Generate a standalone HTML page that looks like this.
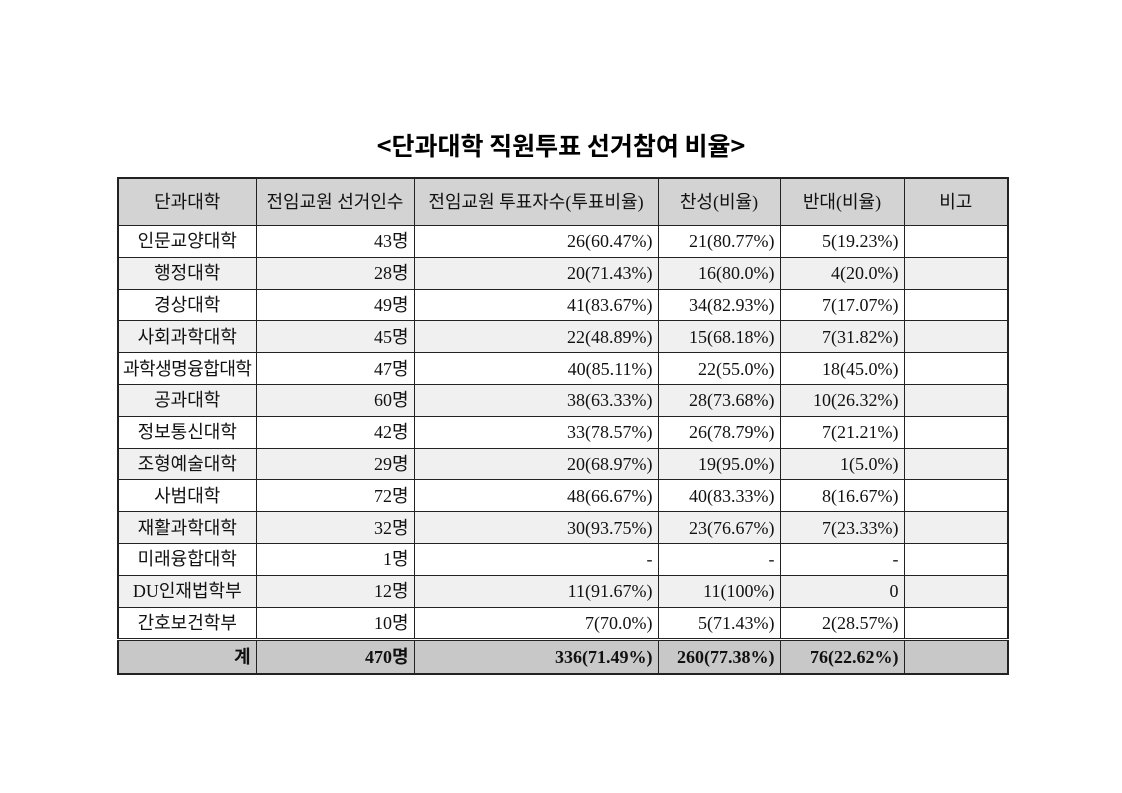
<!DOCTYPE html>
<html><head><meta charset="utf-8"><style>
body{margin:0;width:1122px;height:793px;background:#fff;font-family:"Liberation Serif","Noto Sans CJK KR",sans-serif;position:relative;overflow:hidden}
.t{position:absolute;left:0;width:1122px;top:127px;text-align:center;font-size:25px;font-weight:bold;color:#000;font-family:"Noto Sans CJK KR",sans-serif;line-height:36px}
table{position:absolute;left:117px;top:177px;border-collapse:collapse;border:2px solid #222;table-layout:fixed}
td{border:1px solid #222;font-size:18px;padding:0 5px;height:30.8px;line-height:20px;color:#111;white-space:nowrap;vertical-align:middle;overflow:hidden}
td.c{text-align:center}td.r{text-align:right}
tr.h td{background:#d3d3d3;height:46px;text-align:center}
tr.g td{background:#f0f0f0}
tr.s td{background:#c8c8c8;height:32px;font-weight:bold;border-top:3px double #222}
</style></head><body>
<div class="t">&lt;단과대학 직원투표 선거참여 비율&gt;</div>
<table>
<colgroup><col style="width:138px"><col style="width:158px"><col style="width:244px"><col style="width:122px"><col style="width:124px"><col style="width:104px"></colgroup>
<tr class="h"><td>단과대학</td><td>전임교원 선거인수</td><td>전임교원 투표자수(투표비율)</td><td>찬성(비율)</td><td>반대(비율)</td><td>비고</td></tr>
<tr><td class="c">인문교양대학</td><td class="r">43명</td><td class="r">26(60.47%)</td><td class="r">21(80.77%)</td><td class="r">5(19.23%)</td><td></td></tr>
<tr class="g"><td class="c">행정대학</td><td class="r">28명</td><td class="r">20(71.43%)</td><td class="r">16(80.0%)</td><td class="r">4(20.0%)</td><td></td></tr>
<tr><td class="c">경상대학</td><td class="r">49명</td><td class="r">41(83.67%)</td><td class="r">34(82.93%)</td><td class="r">7(17.07%)</td><td></td></tr>
<tr class="g"><td class="c">사회과학대학</td><td class="r">45명</td><td class="r">22(48.89%)</td><td class="r">15(68.18%)</td><td class="r">7(31.82%)</td><td></td></tr>
<tr><td class="c" style="padding:0;letter-spacing:-0.5px">과학생명융합대학</td><td class="r">47명</td><td class="r">40(85.11%)</td><td class="r">22(55.0%)</td><td class="r">18(45.0%)</td><td></td></tr>
<tr class="g"><td class="c">공과대학</td><td class="r">60명</td><td class="r">38(63.33%)</td><td class="r">28(73.68%)</td><td class="r">10(26.32%)</td><td></td></tr>
<tr><td class="c">정보통신대학</td><td class="r">42명</td><td class="r">33(78.57%)</td><td class="r">26(78.79%)</td><td class="r">7(21.21%)</td><td></td></tr>
<tr class="g"><td class="c">조형예술대학</td><td class="r">29명</td><td class="r">20(68.97%)</td><td class="r">19(95.0%)</td><td class="r">1(5.0%)</td><td></td></tr>
<tr><td class="c">사범대학</td><td class="r">72명</td><td class="r">48(66.67%)</td><td class="r">40(83.33%)</td><td class="r">8(16.67%)</td><td></td></tr>
<tr class="g"><td class="c">재활과학대학</td><td class="r">32명</td><td class="r">30(93.75%)</td><td class="r">23(76.67%)</td><td class="r">7(23.33%)</td><td></td></tr>
<tr><td class="c">미래융합대학</td><td class="r">1명</td><td class="r">-</td><td class="r">-</td><td class="r">-</td><td></td></tr>
<tr class="g"><td class="c">DU인재법학부</td><td class="r">12명</td><td class="r">11(91.67%)</td><td class="r">11(100%)</td><td class="r">0</td><td></td></tr>
<tr><td class="c">간호보건학부</td><td class="r">10명</td><td class="r">7(70.0%)</td><td class="r">5(71.43%)</td><td class="r">2(28.57%)</td><td></td></tr>
<tr class="s"><td class="r">계</td><td class="r">470명</td><td class="r">336(71.49%)</td><td class="r">260(77.38%)</td><td class="r">76(22.62%)</td><td></td></tr>
</table>
</body></html>
